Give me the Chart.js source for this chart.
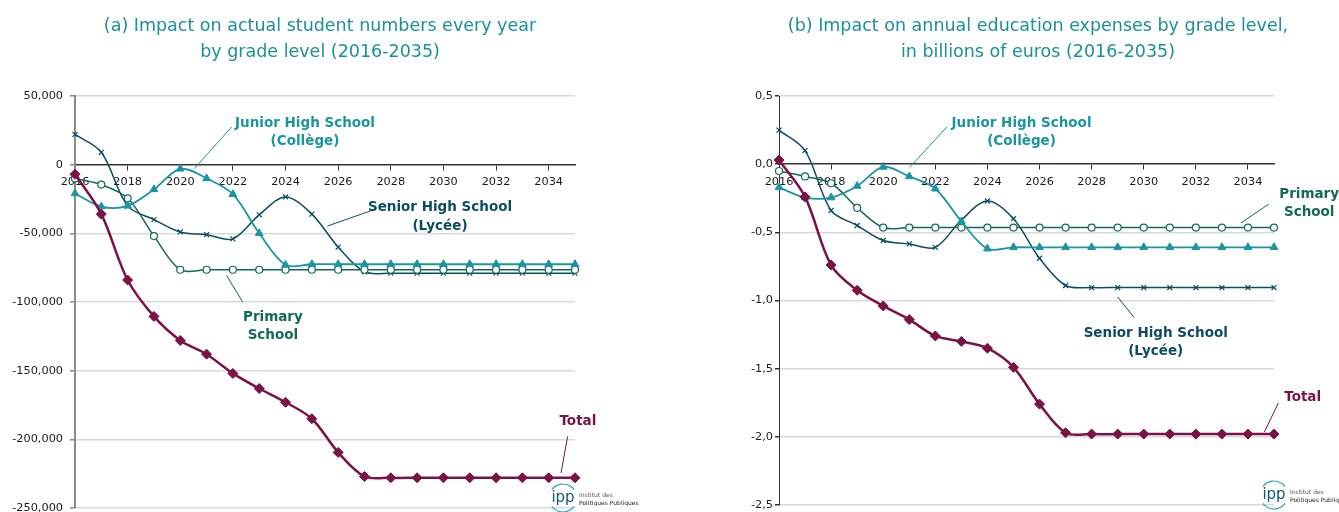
<!DOCTYPE html>
<html lang="en">
<head>
<meta charset="UTF-8">
<title>Impact by grade level (2016-2035)</title>
<script src="https://cdn.jsdelivr.net/npm/chart.js"></script>
<style>
  html, body { margin: 0; padding: 0; background: #fff; overflow: hidden; }
  #left { position: absolute; left: 0; top: 0; }
  #right { position: absolute; left: 669px; top: 0; }
</style>
</head>
<body>
<canvas id="left" width="669" height="530"></canvas>
<canvas id="right" width="670" height="530"></canvas>
<script>
const years = [2016, 2017, 2018, 2019, 2020, 2021, 2022, 2023, 2024, 2025,
               2026, 2027, 2028, 2029, 2030, 2031, 2032, 2033, 2034, 2035];
const yearTicks = [2016, 2018, 2020, 2022, 2024, 2026, 2028, 2030, 2032, 2034];

// (a) student numbers
const studTotal   = [-7000, -36000, -84000, -110500, -128000, -138000, -152000, -163000, -173000, -185000,
                     -209500, -227000, -228000, -228000, -228000, -228000, -228000, -228000, -228000, -228000];
const studJunior  = [-21000, -30500, -30000, -18000, -3000, -10000, -21500, -50000, -73000, -72500,
                     -72500, -72500, -72500, -72500, -72500, -72500, -72500, -72500, -72500, -72500];
const studPrimary = [-10000, -14500, -24500, -52000, -76500, -76500, -76500, -76500, -76500, -76500,
                     -76500, -76500, -76500, -76500, -76500, -76500, -76500, -76500, -76500, -76500];
const studSenior  = [22000, 9000, -30000, -40000, -49000, -51000, -54000, -36500, -23500, -36000,
                     -60000, -78000, -79000, -79000, -79000, -79000, -79000, -79000, -79000, -79000];
const studTicks = [50000, 0, -50000, -100000, -150000, -200000, -250000];

// (b) education expenses, billions of euros
const expTotal   = [0.03, -0.24, -0.74, -0.925, -1.04, -1.14, -1.26, -1.30, -1.35, -1.49,
                    -1.76, -1.97, -1.98, -1.98, -1.98, -1.98, -1.98, -1.98, -1.98, -1.98];
const expJunior  = [-0.17, -0.245, -0.245, -0.16, -0.02, -0.09, -0.18, -0.42, -0.62, -0.61,
                    -0.61, -0.61, -0.61, -0.61, -0.61, -0.61, -0.61, -0.61, -0.61, -0.61];
const expPrimary = [-0.05, -0.09, -0.14, -0.32, -0.465, -0.465, -0.465, -0.465, -0.465, -0.465,
                    -0.465, -0.465, -0.465, -0.465, -0.465, -0.465, -0.465, -0.465, -0.465, -0.465];
const expSenior  = [0.25, 0.10, -0.34, -0.45, -0.56, -0.585, -0.61, -0.41, -0.27, -0.40,
                    -0.69, -0.89, -0.905, -0.905, -0.905, -0.905, -0.905, -0.905, -0.905, -0.905];
const expTicks = [0.5, 0, -0.5, -1, -1.5, -2, -2.5];

const C = {
  total: '#7a1245',
  junior: '#1a95a1',
  primary: '#13695a',
  senior: '#0c4d62',
  title: '#1a909b'
};
const FONT = '"DejaVu Sans", Verdana, sans-serif';

function series(vals) {
  return years.map((x, i) => ({ x: x, y: vals[i] }));
}

function makeSets(total, junior, primary, senior) {
  return [
    { label: 'Total', data: series(total), borderColor: C.total, backgroundColor: C.total,
      borderWidth: 2.5, pointStyle: 'rectRot', pointRadius: 5, pointBorderWidth: 1 },
    { label: 'Junior High School (Collège)', data: series(junior), borderColor: C.junior, backgroundColor: C.junior,
      borderWidth: 1.8, pointStyle: 'triangle', pointRadius: 4.5, pointBorderWidth: 1 },
    { label: 'Primary School', data: series(primary), borderColor: C.primary, backgroundColor: '#fff',
      borderWidth: 1.5, pointStyle: 'circle', pointRadius: 3.5, pointBorderWidth: 1.2 },
    { label: 'Senior High School (Lycée)', data: series(senior), borderColor: C.senior, backgroundColor: C.senior,
      borderWidth: 1.5, pointStyle: 'crossRot', pointRadius: 3.5, pointBorderWidth: 1.2 }
  ].map(d => Object.assign(d, { tension: 0.33, clip: false, fill: false }));
}

// titles, labels with leader lines, logo
const decor = {
  id: 'decor',
  afterDraw(chart, args, o) {
    const ctx = chart.ctx, xs = chart.scales.x, ys = chart.scales.y;
    ctx.save();
    ctx.fillStyle = C.title;
    ctx.font = '17.5px ' + FONT;
    ctx.textAlign = 'center';
    ctx.textBaseline = 'alphabetic';
    o.title.forEach((t, i) => ctx.fillText(t, o.titleX, 30.5 + i * 26.5));

    o.notes.forEach(n => {
      ctx.strokeStyle = n.color;
      ctx.lineWidth = 1;
      ctx.beginPath();
      ctx.moveTo(xs.getPixelForValue(n.from[0]), ys.getPixelForValue(n.from[1]));
      ctx.lineTo(xs.getPixelForValue(n.to[0]), ys.getPixelForValue(n.to[1]));
      ctx.stroke();
      ctx.fillStyle = n.color;
      ctx.font = 'bold 13.5px ' + FONT;
      ctx.textBaseline = 'middle';
      const x = xs.getPixelForValue(n.at[0]), y = ys.getPixelForValue(n.at[1]);
      n.text.forEach((s, i) => ctx.fillText(s, x, y + i * 18.5));
    });

    const cx = chart.chartArea.right + o.logo[0], cy = chart.chartArea.bottom + o.logo[1];
    ctx.strokeStyle = '#2aa5b2';
    ctx.lineWidth = 1.2;
    ctx.beginPath(); ctx.arc(cx, cy, 14, -2.5, -0.65); ctx.stroke();
    ctx.beginPath(); ctx.arc(cx, cy, 14, 0.65, 2.5); ctx.stroke();
    ctx.fillStyle = '#0d5a6e';
    ctx.font = '15px ' + FONT;
    ctx.textAlign = 'center';
    ctx.fillText('ipp', cx, cy);
    ctx.textAlign = 'left';
    ctx.font = '6px ' + FONT;
    ctx.fillStyle = '#555';
    ctx.fillText('Institut des', cx + 16, cy - 3);
    ctx.fillStyle = '#222';
    ctx.fillText('Politiques Publiques', cx + 16, cy + 5);
    ctx.restore();
  }
};

function makeChart(id, sets, ticks, fmt, cfg) {
  return new Chart(document.getElementById(id), {
    type: 'line',
    data: { datasets: sets },
    plugins: [decor],
    options: {
      responsive: false,
      animation: false,
      events: [],
      layout: { padding: { left: 0, top: 96, right: cfg.padRight, bottom: cfg.padBottom } },
      plugins: {
        legend: { display: false },
        tooltip: { enabled: false },
        decor: cfg.decor
      },
      scales: {
        x: {
          type: 'linear', min: 2016, max: 2035, position: { y: 0 },
          afterBuildTicks: s => { s.ticks = yearTicks.map(v => ({ value: v })); },
          ticks: { callback: v => String(v), font: { family: FONT, size: 11.3 }, color: '#1a1a1a',
                   padding: 6, maxRotation: 0, autoSkip: false },
          grid: { drawOnChartArea: false, drawTicks: true, tickLength: 5, tickColor: '#333', tickWidth: 1 },
          border: { color: '#333', width: 1.5 }
        },
        y: {
          type: 'linear', min: ticks[ticks.length - 1], max: ticks[0],
          afterBuildTicks: s => { s.ticks = ticks.map(v => ({ value: v })); },
          afterFit: s => { s.width = cfg.axisW; },
          ticks: { callback: fmt, font: { family: FONT, size: 11.3 }, color: '#1a1a1a', padding: cfg.tickPad },
          grid: { color: c => (c.tick && c.tick.value === 0) ? 'rgba(0,0,0,0)' : '#d9d9d9',
                  lineWidth: 1.5, tickLength: cfg.tickLen, tickColor: cfg.axisColor },
          border: { color: cfg.axisColor, width: cfg.axisWidth }
        }
      }
    }
  });
}

makeChart('left', makeSets(studTotal, studJunior, studPrimary, studSenior), studTicks,
  v => v.toLocaleString('en-US'),
  {
    padRight: 94, padBottom: 22, axisW: 75, tickPad: 7, tickLen: 5, axisColor: '#8a8a8a', axisWidth: 2,
    decor: {
      titleX: 320,
      title: ['(a) Impact on actual student numbers every year', 'by grade level (2016-2035)'],
      logo: [-12, -10],
      notes: [
        { text: ['Junior High School', '(Collège)'], color: C.junior, at: [2024.74, 30000],
          from: [2021.95, 27400], to: [2020.53, -2900] },
        { text: ['Senior High School', '(Lycée)'], color: C.senior, at: [2029.87, -31200],
          from: [2027.36, -32800], to: [2025.59, -44700] },
        { text: ['Primary', 'School'], color: C.primary, at: [2023.52, -111200],
          from: [2021.76, -80600], to: [2022.37, -100000] },
        { text: ['Total'], color: C.total, at: [2035.11, -186900],
          from: [2034.72, -197800], to: [2034.47, -224500] }
      ]
    }
  });

makeChart('right', makeSets(expTotal, expJunior, expPrimary, expSenior), expTicks,
  v => v.toFixed(1).replace('.', ','),
  {
    padRight: 65, padBottom: 25, axisW: 110, tickPad: 2, tickLen: 4, axisColor: '#333', axisWidth: 1,
    decor: {
      titleX: 369,
      title: ['(b) Impact on annual education expenses by grade level,', 'in billions of euros (2016-2035)'],
      logo: [0, -10],
      notes: [
        { text: ['Junior High School', '(Collège)'], color: C.junior, at: [2025.31, 0.30],
          from: [2022.45, 0.274], to: [2021.01, -0.024] },
        { text: ['Primary', 'School'], color: C.primary, at: [2036.35, -0.22],
          from: [2034.8, -0.293], to: [2033.73, -0.431] },
        { text: ['Senior High School', '(Lycée)'], color: C.senior, at: [2030.46, -1.242],
          from: [2029.0, -0.974], to: [2029.63, -1.125] },
        { text: ['Total'], color: C.total, at: [2036.1, -1.712],
          from: [2035.17, -1.751], to: [2034.63, -1.964] }
      ]
    }
  });
</script>
</body>
</html>
